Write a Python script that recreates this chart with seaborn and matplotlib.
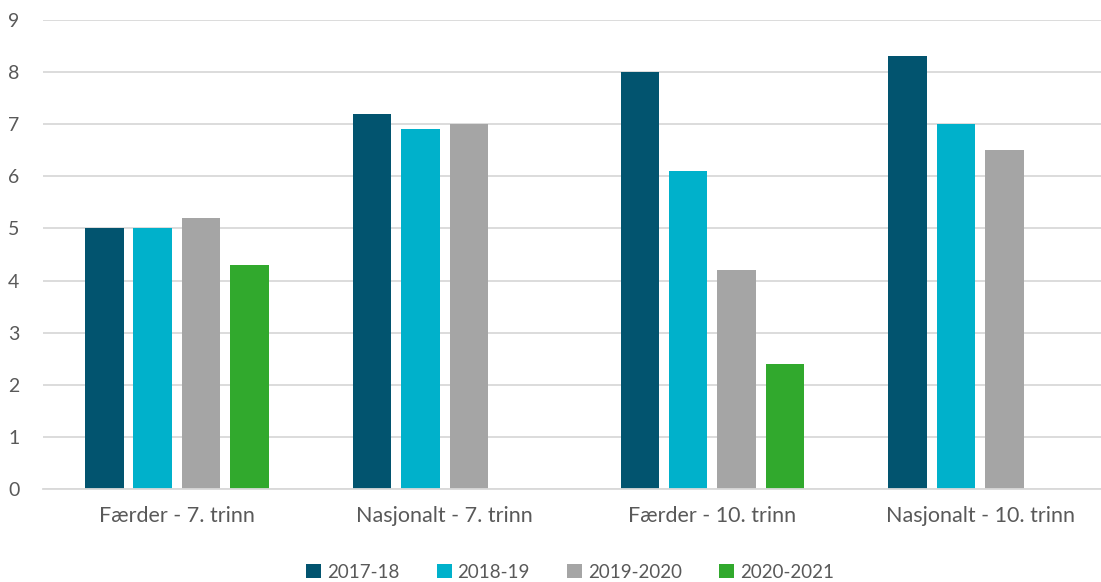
import matplotlib
matplotlib.use("Agg")
import matplotlib.pyplot as plt
import seaborn as sns
import pandas as pd
import numpy as np

categories = ["Færder - 7. trinn", "Nasjonalt - 7. trinn", "Færder - 10. trinn", "Nasjonalt - 10. trinn"]
series = ["2017-18", "2018-19", "2019-2020", "2020-2021"]
v_2017_18 = [5.0, 7.2, 8.0, 8.3]
v_2018_19 = [5.0, 6.9, 6.1, 7.0]
v_2019_2020 = [5.2, 7.0, 4.2, 6.5]
v_2020_2021 = [4.3, np.nan, 2.4, np.nan]
colors = ["#02546F", "#00B1CB", "#A5A5A5", "#31A92D"]

rows = []
for s, vals in zip(series, [v_2017_18, v_2018_19, v_2019_2020, v_2020_2021]):
    for c, v in zip(categories, vals):
        rows.append({"kategori": c, "år": s, "verdi": v})
df = pd.DataFrame(rows)

sns.set_theme(style="white")
plt.rcParams["font.family"] = ["Lato", "DejaVu Sans"]

fig = plt.figure(figsize=(11.01, 5.82), dpi=100)
ax = fig.add_axes([43 / 1101, 93 / 582, (1101 - 43) / 1101, 469 / 582])

sns.barplot(data=df, x="kategori", y="verdi", hue="år", order=categories,
            hue_order=series, palette=colors, width=0.723, gap=0.205,
            saturation=1, ax=ax, legend=True, edgecolor="none")

ax.set_ylim(0, 9)
ax.set_xlim(-0.5, 3.451)
ax.set_yticks(range(0, 10))
ax.yaxis.grid(True, color="#D9D9D9", linewidth=1.3)
ax.set_axisbelow(True)
for side in ["top", "right", "left"]:
    ax.spines[side].set_visible(False)
ax.spines["bottom"].set_color("#D9D9D9")
ax.spines["bottom"].set_linewidth(1.3)
ax.set_xlabel("")
ax.set_ylabel("")
ax.tick_params(axis="both", length=0, labelcolor="#595959")
ax.tick_params(axis="y", pad=17, labelsize=14)
ax.tick_params(axis="x", pad=12, labelsize=15.5)

handles, labels = ax.get_legend_handles_labels()
ax.legend(handles, labels, loc="center", bbox_to_anchor=(570 / 1101, 10 / 582),
          bbox_transform=fig.transFigure, ncol=4, frameon=False, fontsize=13.5,
          handlelength=0.8, handleheight=0.8, handletextpad=0.3, columnspacing=2.0,
          labelcolor="#595959")

fig.savefig("out.png", dpi=100)
